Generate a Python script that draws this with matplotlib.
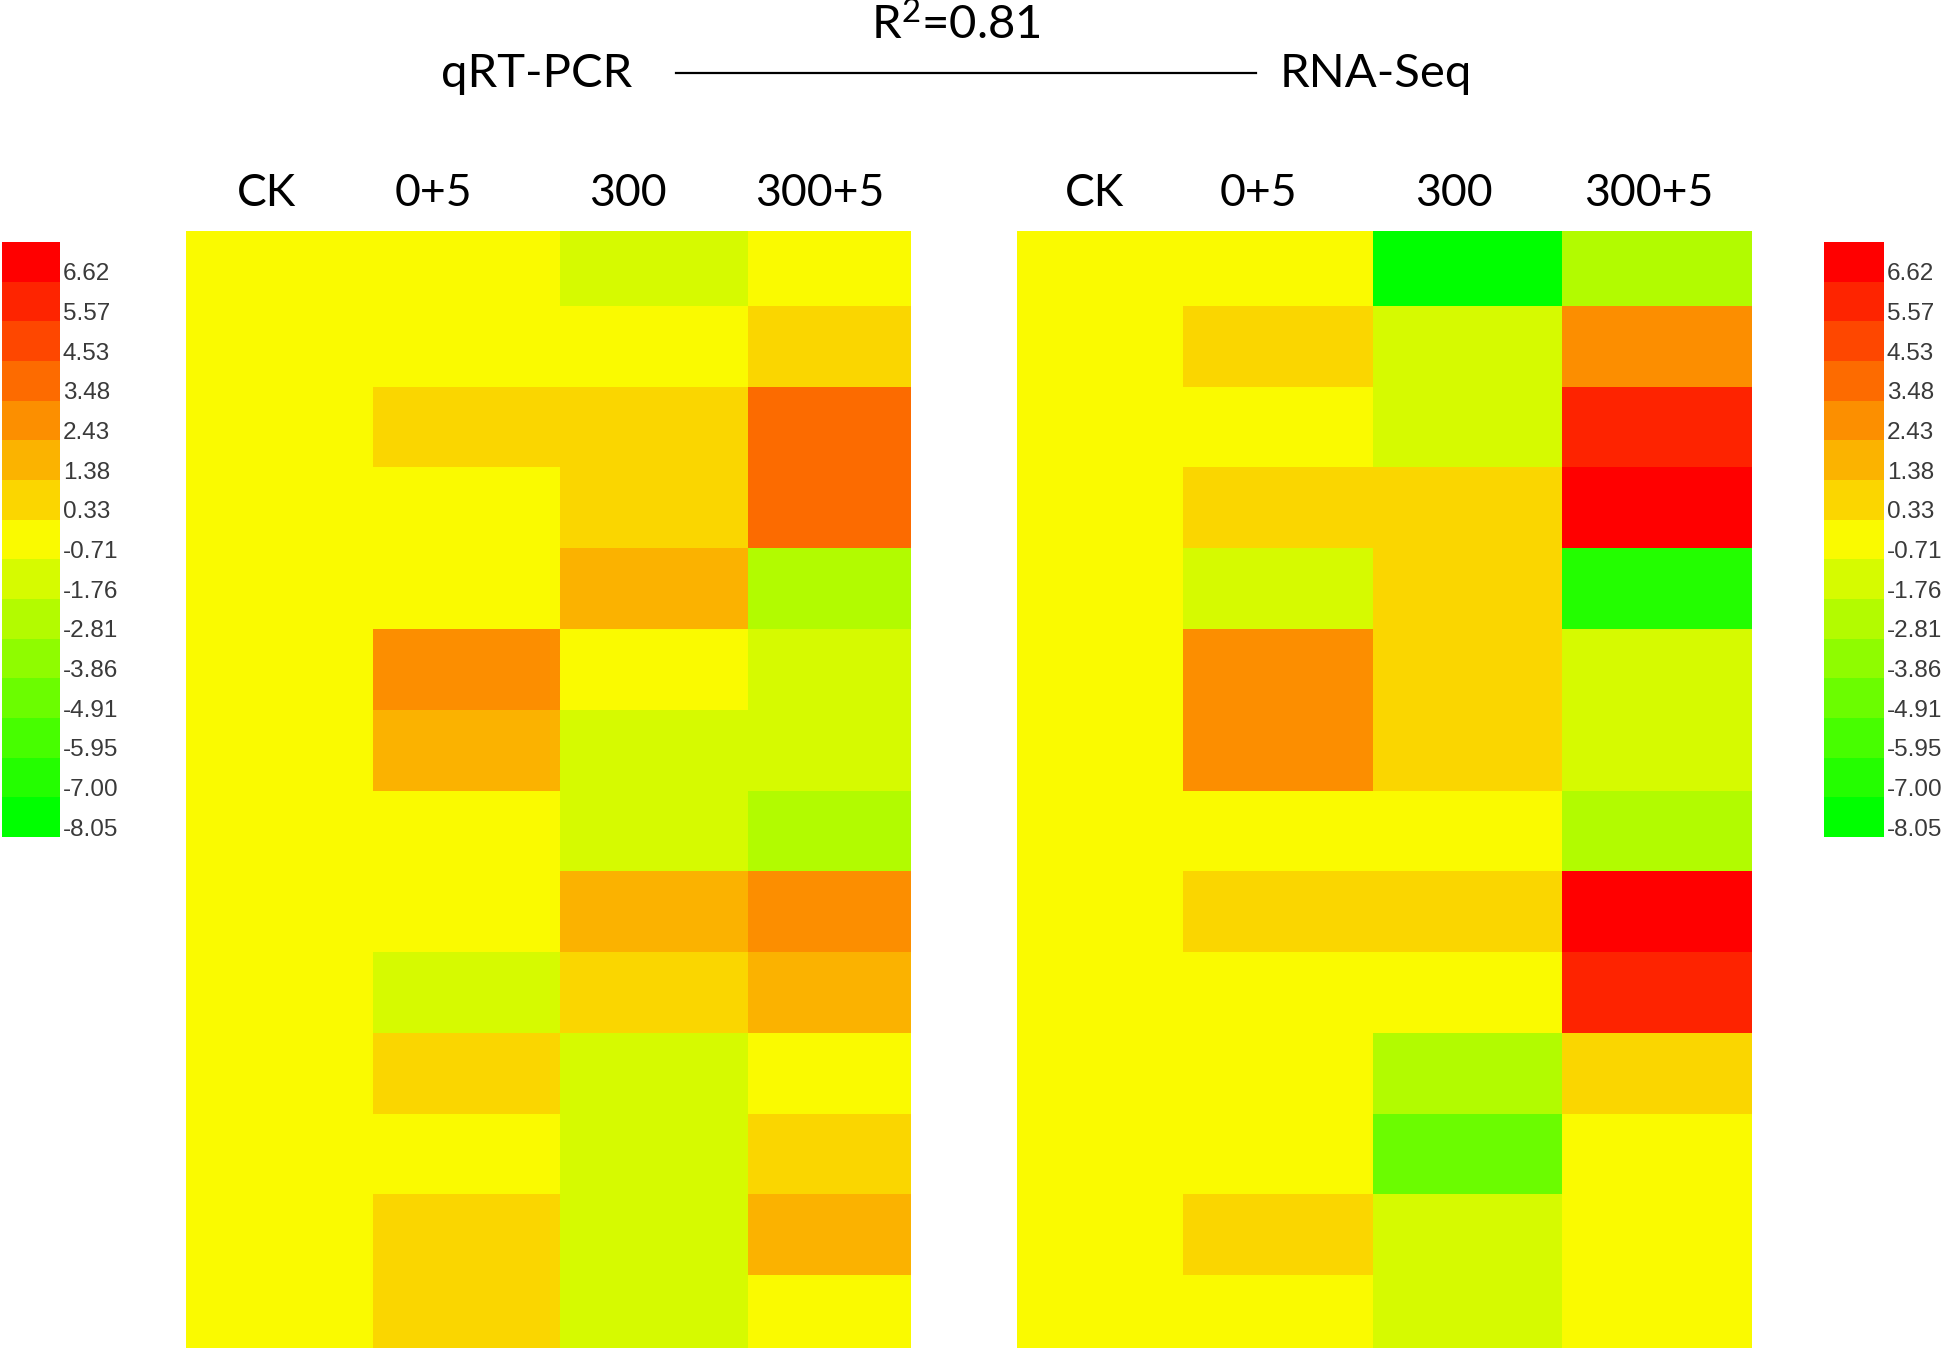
import numpy as np
import matplotlib
matplotlib.use("Agg")
import matplotlib.pyplot as plt
from matplotlib.colors import LinearSegmentedColormap, BoundaryNorm
from matplotlib.cm import ScalarMappable
from matplotlib.lines import Line2D

# Data (log2 fold change)
columns = ["CK", "0+5", "300", "300+5"]
boundaries = [-8.05, -7.00, -5.95, -4.91, -3.86, -2.81, -1.76, -0.71,
              0.33, 1.38, 2.43, 3.48, 4.53, 5.57, 6.62, 7.67]
bar_labels = ["-8.05", "-7.00", "-5.95", "-4.91", "-3.86", "-2.81", "-1.76",
              "-0.71", "0.33", "1.38", "2.43", "3.48", "4.53", "5.57", "6.62"]

qrt_ck   = [0, 0, 0, 0, 0, 0, 0, 0, 0, 0, 0, 0, 0, 0]
qrt_05   = [0, 0, 0.8, 0, 0, 2.9, 1.9, 0, 0, -1.2, 0.8, 0, 0.8, 0.8]
qrt_300  = [-1.2, 0, 0.8, 0.8, 1.9, 0, -1.2, -1.2, 1.9, 0.8, -1.2, -1.2, -1.2, -1.2]
qrt_3005 = [0, 0.8, 4.0, 4.0, -2.3, -1.2, -1.2, -2.3, 2.9, 1.9, 0, 0.8, 1.9, 0]

rna_ck   = [0, 0, 0, 0, 0, 0, 0, 0, 0, 0, 0, 0, 0, 0]
rna_05   = [0, 0.8, 0, 0.8, -1.2, 2.9, 2.9, 0, 0.8, 0, 0, 0, 0.8, 0]
rna_300  = [-7.5, -1.2, -1.2, 0.8, 0.8, 0.8, 0.8, 0, 0.8, 0, -2.3, -4.4, -1.2, -1.2]
rna_3005 = [-2.3, 2.9, 6.1, 7.1, -6.5, -1.2, -1.2, -2.3, 7.1, 6.1, 0.8, 0, 0, 0]

qrt = np.column_stack([qrt_ck, qrt_05, qrt_300, qrt_3005])
rna = np.column_stack([rna_ck, rna_05, rna_300, rna_3005])

# 15-step green -> yellow -> red scale
cmap = LinearSegmentedColormap.from_list("gyr", ["#00ff00", "#fafa00", "#ff0000"], N=15)
norm = BoundaryNorm(boundaries, cmap.N)

plt.rcParams["mathtext.fontset"] = "custom"
plt.rcParams["mathtext.rm"] = "Lato"

W, H = 1944, 1348
fig = plt.figure(figsize=(W / 100, H / 100), dpi=100)

def box(x0, y0, x1, y1):
    # pixel box (top-left origin) -> figure fraction rect
    return [x0 / W, 1 - y1 / H, (x1 - x0) / W, (y1 - y0) / H]

head_font = "Lato"

# the two panels are cropped pictures: part of an edge column is cut off
panels = [
    (qrt, box(186, 231, 910, 1348), (-0.5, 3.37), [-0.07, 0.82, 1.86, 2.89]),
    (rna, box(1017, 231, 1751, 1348), (-0.377, 3.5), [0.03, 0.90, 1.93, 2.96]),
]
for data, rect, xlim, label_pos in panels:
    ax = fig.add_axes(rect)
    ax.imshow(data, cmap=cmap, norm=norm, aspect="auto", interpolation="nearest")
    ax.set_xlim(*xlim)
    ax.set_ylim(13.4, -0.43)
    ax.set_xticks(label_pos)
    ax.set_xticklabels(columns, fontsize=32, family=head_font)
    ax.xaxis.tick_top()
    ax.tick_params(axis="x", length=0, pad=12)
    ax.set_yticks([])
    for s in ax.spines.values():
        s.set_visible(False)

# colour bars
ticks = [b + 0.25 * (boundaries[i + 1] - b) for i, b in enumerate(boundaries[:-1])]
for rect in [box(2, 242, 60, 837), box(1824, 242, 1884, 837)]:
    cax = fig.add_axes(rect)
    cb = fig.colorbar(ScalarMappable(norm=norm, cmap=cmap), cax=cax)
    cb.outline.set_visible(False)
    cax.minorticks_off()
    cb.set_ticks(ticks)
    cb.set_ticklabels(bar_labels)
    cax.tick_params(which="both", length=0, pad=2, labelsize=17.5, labelcolor="#3a3a3a")
    for lab in cax.get_yticklabels():
        lab.set_family("Liberation Sans")

# header
fig.text(537 / W, 1 - 74 / H, "qRT-PCR", ha="center", va="center", fontsize=34, family=head_font)
fig.text(1376 / W, 1 - 74 / H, "RNA-Seq", ha="center", va="center", fontsize=34, family=head_font)
fig.text(956 / W, 1 - 24 / H, r"R$\mathrm{^2}$=0.81", ha="center", va="center", fontsize=34, family=head_font)
fig.add_artist(Line2D([676 / W, 1256 / W], [1 - 73 / H, 1 - 73 / H], color="black", lw=1.6))

fig.savefig("out.png", dpi=100)
